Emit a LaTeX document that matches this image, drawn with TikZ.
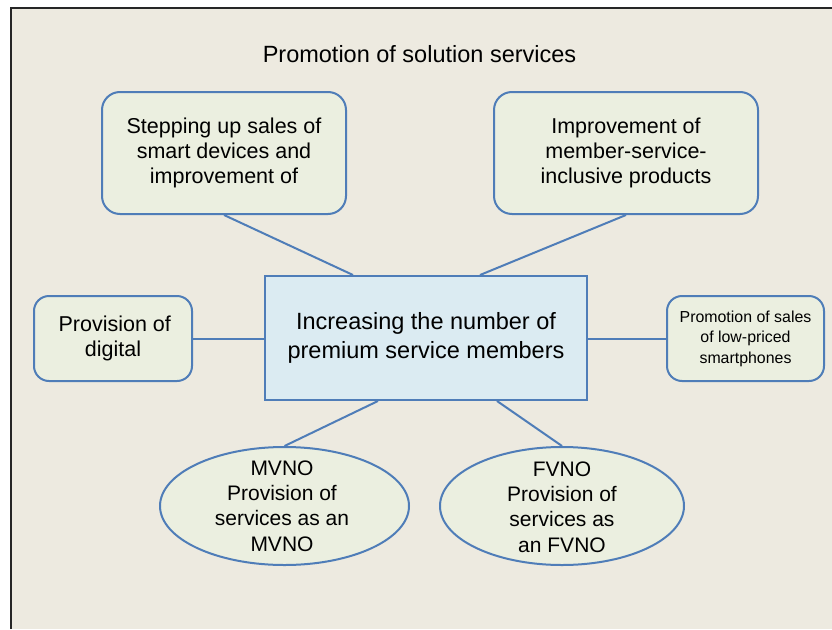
\documentclass[tikz,border=0pt]{standalone}
\usepackage{fontspec}
\setmainfont{Liberation Sans}
\usetikzlibrary{shapes.geometric,calc}
\definecolor{bgbeige}{HTML}{EDEAE0}
\definecolor{boxfill}{HTML}{EBEFE0}
\definecolor{centerfill}{HTML}{DBEBF2}
\definecolor{edgeblue}{HTML}{4F7DB8}
\tikzset{
  roundbox/.style={draw=edgeblue, line width=2pt, fill=boxfill, rounded corners=18pt, inner sep=0pt, align=center},
  centerbox/.style={draw=edgeblue, line width=2pt, fill=centerfill, inner sep=0pt, align=center},
  ovalbox/.style={draw=edgeblue, line width=2pt, fill=boxfill, ellipse, inner sep=0pt},
  ovaltext/.style={align=center, inner sep=0pt, font=\fontsize{21}{25.3}\selectfont},
  link/.style={draw=edgeblue, line width=2pt},
}
\begin{document}
\begin{tikzpicture}[x=1pt, y=-1pt]
\useasboundingbox (0,0) rectangle (832,629);
\fill[white] (0,0) rectangle (832,629);
\fill[bgbeige] (11,8) rectangle (832,629);
\draw[black!85, line width=2pt] (11,629) -- (11,8) -- (832,8);

\node[font=\fontsize{23.5}{28}\selectfont] (title) at (419.5,54.5) {Promotion of solution services};

\node[centerbox, minimum width=322pt, minimum height=124pt,
      font=\fontsize{23.5}{29}\selectfont] (c) at (426,338)
      {Increasing the number of\\premium service members};

\node[roundbox, minimum width=244pt, minimum height=122pt,
      font=\fontsize{21.5}{24.7}\selectfont] (tl) at (224,153)
      {Stepping up sales of\\smart devices and\\improvement of};

\node[roundbox, minimum width=264pt, minimum height=122pt,
      font=\fontsize{21.5}{25}\selectfont] (tr) at (626,153)
      {Improvement of\\member-service-\\inclusive products};

\node[roundbox, minimum width=158pt, minimum height=85pt, rounded corners=15pt,
      font=\fontsize{21.5}{25}\selectfont] (l) at (113,338.5)
      {\,Provision of\\digital};

\node[roundbox, minimum width=157pt, minimum height=85pt, rounded corners=15pt,
      font=\fontsize{15.9}{20.5}\selectfont] (r) at (745.5,338.5)
      {Promotion of sales\\of low-priced\\smartphones};

\node[ovalbox, minimum width=249pt, minimum height=118pt] (e1) at (284.5,506) {};
\node[ovaltext] (e1t) at (282,506) {MVNO\\Provision of\\services as an\\MVNO};

\node[ovalbox, minimum width=244pt, minimum height=118pt] (e2) at (562,506) {};
\node[ovaltext] (e2t) at (562,507) {FVNO\\Provision of\\services as\\an FVNO};

\draw[link] (tl.south) -- ([xshift=-73pt]c.north);
\draw[link] (tr.south) -- ([xshift=54pt]c.north);
\draw[link] (l.east) -- (l.east -| c.west);
\draw[link] (c.east |- r.west) -- (r.west);
\draw[link] ([xshift=-48pt]c.south) -- (e1.north);
\draw[link] ([xshift=71pt]c.south) -- (e2.north);
\end{tikzpicture}
\end{document}
